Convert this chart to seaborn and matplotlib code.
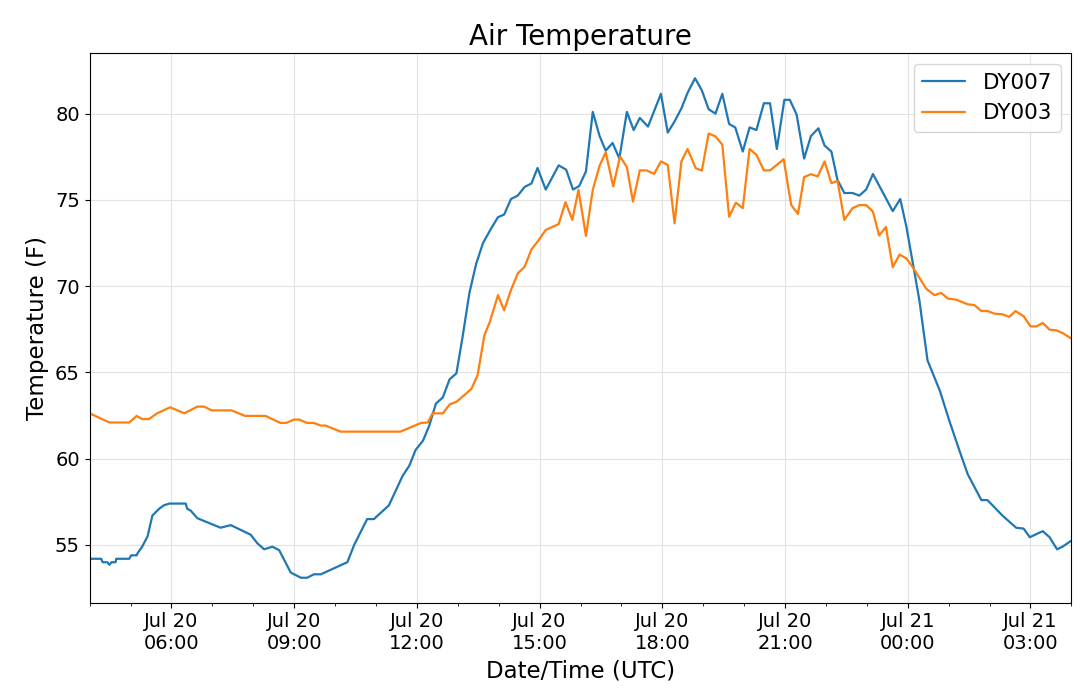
import numpy as np
import pandas as pd
import seaborn as sns
import matplotlib
matplotlib.use("Agg")
import matplotlib.pyplot as plt
import matplotlib.dates as mdates

# start of the record
start = pd.Timestamp("2019-07-20 04:00")

# DY007: minutes after start, temperature (F)
dy007_min = [0, 17, 19, 26, 29, 32, 38, 39, 58, 61, 69, 70, 77, 85, 92, 97, 102, 109, 117,
             141, 143, 148, 158, 192, 207, 236, 246, 256, 268, 278, 295, 310, 319, 329, 339,
             378, 388, 407, 417, 439, 459, 469, 478, 489, 498, 508, 518, 528, 538, 547, 557,
             567, 577, 589, 599, 608, 618, 628, 638, 648, 657, 669, 688, 699, 709, 718, 728,
             738, 748, 757, 767, 777, 788, 798, 807, 819, 838, 848, 858, 868, 877, 888, 898,
             908, 918, 928, 938, 947, 958, 968, 978, 989, 998, 1008, 1019, 1027, 1037, 1048,
             1058, 1069, 1078, 1088, 1097, 1107, 1119, 1129, 1139, 1149, 1178, 1189, 1198,
             1217, 1229, 1247, 1261, 1276, 1288, 1308, 1317, 1339, 1359, 1370, 1379, 1398,
             1408, 1419, 1427, 1440]
dy007_temp = [54.2, 54.2, 54.0, 54.0, 53.85, 54.0, 54.0, 54.2, 54.2, 54.4, 54.4, 54.5, 54.9,
              55.5, 56.7, 56.9, 57.1, 57.3, 57.4, 57.4, 57.1, 57.0, 56.55, 56.0, 56.15, 55.6,
              55.1, 54.75, 54.9, 54.7, 53.4, 53.1, 53.1, 53.3, 53.3, 54.0, 55.0, 56.5, 56.5,
              57.3, 59.0, 59.6, 60.5, 61.05, 61.9, 63.2, 63.55, 64.6, 64.95, 67.05, 69.6, 71.3,
              72.5, 73.35, 74.0, 74.15, 75.05, 75.25, 75.75, 75.95, 76.85, 75.6, 77.0, 76.75,
              75.6, 75.8, 76.65, 80.1, 78.7, 77.85, 78.3, 77.4, 80.1, 79.05, 79.75, 79.25,
              81.15, 78.9, 79.55, 80.3, 81.2, 82.05, 81.35, 80.25, 80.0, 81.15, 79.4, 79.2,
              77.8, 79.2, 79.05, 80.6, 80.6, 77.95, 80.8, 80.8, 79.95, 77.4, 78.7, 79.15,
              78.15, 77.8, 76.15, 75.4, 75.4, 75.25, 75.6, 76.5, 74.35, 75.05, 73.45, 69.2,
              65.7, 63.95, 62.2, 60.45, 59.1, 57.6, 57.6, 56.7, 56.0, 55.95, 55.45, 55.8,
              55.45, 54.75, 54.9, 55.25]

# DY003: minutes after start, temperature (F)
dy003_min = [0, 29, 58, 69, 77, 87, 99, 118, 139, 158, 168, 179, 208, 228, 258, 280, 288, 300,
             307, 319, 329, 339, 346, 368, 456, 486, 496, 503, 518, 528, 538, 547, 560, 569,
             579, 587, 599, 608, 618, 628, 638, 648, 657, 669, 688, 698, 708, 717, 728, 738,
             748, 757, 768, 778, 788, 797, 807, 817, 828, 838, 848, 858, 868, 877, 889, 898,
             908, 918, 928, 938, 948, 958, 968, 978, 989, 998, 1008, 1018, 1029, 1039, 1048,
             1058, 1068, 1078, 1088, 1097, 1107, 1119, 1129, 1139, 1149, 1158, 1168, 1178,
             1188, 1198, 1207, 1227, 1239, 1249, 1259, 1271, 1288, 1298, 1308, 1317, 1327,
             1339, 1349, 1358, 1370, 1380, 1389, 1398, 1408, 1418, 1427, 1440]
dy003_temp = [62.63, 62.1, 62.1, 62.48, 62.3, 62.3, 62.63, 62.98, 62.63, 63.02, 63.02, 62.8,
              62.8, 62.48, 62.48, 62.07, 62.07, 62.27, 62.27, 62.07, 62.07, 61.92, 61.92,
              61.57, 61.57, 62.07, 62.1, 62.63, 62.63, 63.14, 63.3, 63.6, 64.05, 64.83, 67.15,
              67.93, 69.48, 68.6, 69.77, 70.74, 71.12, 72.13, 72.58, 73.26, 73.6, 74.87, 73.84,
              75.58, 72.91, 75.58, 76.98, 77.76, 75.78, 77.52, 76.9, 74.9, 76.71, 76.71, 76.51,
              77.23, 77.03, 73.64, 77.23, 77.95, 76.84, 76.7, 78.85, 78.68, 78.2, 74.03, 74.84,
              74.52, 77.95, 77.62, 76.71, 76.71, 77.03, 77.36, 74.71, 74.19, 76.32, 76.49,
              76.36, 77.23, 75.97, 76.1, 73.84, 74.52, 74.7, 74.7, 74.32, 72.94, 73.43, 71.1,
              71.83, 71.61, 71.12, 69.86, 69.48, 69.61, 69.28, 69.22, 68.95, 68.9, 68.56,
              68.56, 68.41, 68.37, 68.22, 68.56, 68.26, 67.67, 67.67, 67.87, 67.48, 67.44,
              67.29, 66.96]

df7 = pd.DataFrame({"time": start + pd.to_timedelta(dy007_min, unit="m"),
                    "temp": dy007_temp, "station": "DY007"})
df3 = pd.DataFrame({"time": start + pd.to_timedelta(dy003_min, unit="m"),
                    "temp": dy003_temp, "station": "DY003"})
data = pd.concat([df7, df3], ignore_index=True)

sns.set_style("ticks", {"axes.grid": True, "grid.color": "#e3e3e3",
                        "axes.edgecolor": "black", "text.color": "black",
                        "axes.labelcolor": "black", "xtick.color": "black",
                        "ytick.color": "black"})
plt.rcParams["font.family"] = ["DejaVu Sans"]

fig, ax = plt.subplots(figsize=(10.8, 6.92), dpi=100)
fig.subplots_adjust(left=0.083, right=0.992, top=0.923, bottom=0.129)

sns.lineplot(data=data, x="time", y="temp", hue="station",
             palette=["#1f77b4", "#ff7f0e"], linewidth=1.6, ax=ax)

ax.set_xlim(data["time"].min(), data["time"].max())
ax.xaxis.set_major_locator(mdates.HourLocator(byhour=range(0, 24, 3)))
ax.xaxis.set_minor_locator(mdates.HourLocator())
ax.xaxis.set_major_formatter(mdates.DateFormatter("%b %d\n%H:%M"))
ax.tick_params(axis="both", labelsize=14)

ax.set_title("Air Temperature", fontsize=20)
ax.set_xlabel("Date/Time (UTC)", fontsize=16.5)
ax.set_ylabel("Temperature (F)", fontsize=16.5)
ax.legend(loc="upper right", fontsize=15.5)

fig.savefig("out.png", dpi=100)
